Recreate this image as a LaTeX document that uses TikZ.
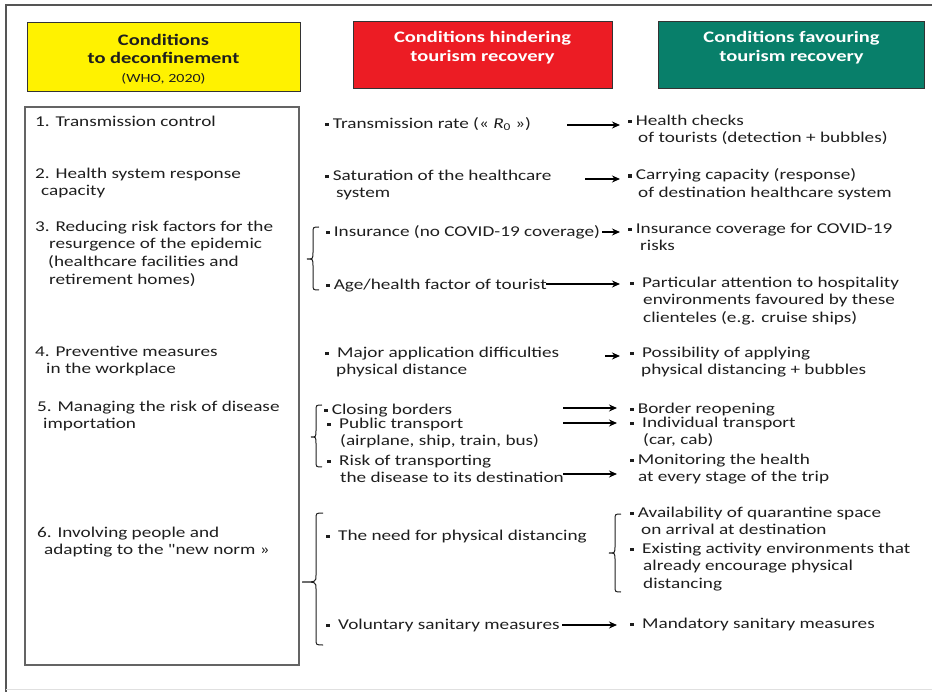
\documentclass[tikz,border=0pt]{standalone}
\usepackage{fontspec}
\setmainfont{Carlito}[FakeStretch=1.28]
% same face without the TeX quote mapping, for a straight double quote
\newfontfamily\plainquote{Carlito}[FakeStretch=1.28]
\usetikzlibrary{arrows.meta}

\definecolor{ink}{RGB}{30,30,30}
\definecolor{framegray}{RGB}{85,85,85}
\definecolor{boxgray}{RGB}{100,100,100}
\definecolor{hdryellow}{RGB}{255,242,0}
\definecolor{hdrred}{RGB}{236,28,36}
\definecolor{hdrgreen}{RGB}{8,127,106}

% small square bullet
\newcommand\bul{\raisebox{2.2pt}{\rule{3.3pt}{3.3pt}}}

% curly brace opening to the right:
% #1 tip x, #2 stem x, #3 end x, #4 top y, #5 tip y, #6 bottom y
\newcommand\curlybr[6]{%
  \draw[bracestyle] (#3,#4) .. controls (#2,#4) .. (#2,#4+6)
    -- (#2,#5-7) .. controls (#2,#5) .. (#1,#5)
    .. controls (#2,#5) .. (#2,#5+7)
    -- (#2,#6-6) .. controls (#2,#6) .. (#3,#6);}

\tikzset{
  txt/.style={font=\fontsize{15}{17.7}\selectfont, text=ink, inner sep=0pt,
    anchor=north west, align=left, yshift=8.4pt, execute at begin node=\strut},
  hdrbox/.style={draw=black!80, line width=0.9pt, inner sep=0pt},
  hdrtxt/.style={font=\bfseries\fontsize{16}{18.5}\selectfont, align=center, inner sep=0pt},
  arr/.style={draw=black, line width=1.4pt, -{Stealth[length=8pt,width=7pt]}},
  bracestyle/.style={draw=ink, line width=1pt},
}

\begin{document}
\begin{tikzpicture}[x=1pt,y=-1pt]
\useasboundingbox (0,0) rectangle (932,692);

% outer frame
\draw[framegray, line width=2pt] (6,692) -- (6,5) -- (932,5);
\draw[black!12, line width=1pt] (6,689) -- (932,689);

% column headers
\node[hdrbox, fill=hdryellow, minimum width=273pt, minimum height=69pt] (hy) at (163.5,56.5) {};
\node[hdrbox, fill=hdrred, minimum width=259pt, minimum height=67pt] (hr) at (482.5,55) {};
\node[hdrbox, fill=hdrgreen, minimum width=266pt, minimum height=67pt] (hg) at (791.5,55) {};
\node[hdrtxt, text=ink] (hyt) at (163.5,59) {Conditions\\to deconfinement\\{\mdseries\fontsize{12.5}{15}\selectfont (WHO, 2020)}};
\node[hdrtxt, text=white] (hrt) at (482.5,47.5) {Conditions hindering\\tourism recovery};
\node[hdrtxt, text=white] (hgt) at (791.5,47.5) {Conditions favouring\\tourism recovery};

% left column frame
\node[draw=boxgray, line width=1.6pt, minimum width=274pt, minimum height=558pt, inner sep=0pt] (lbox) at (162,386) {};

% conditions to deconfinement
\node[txt] (L1) at (35,122) {1. Transmission control};
\node[txt] (L2) at (35,176) {2. Health system response\\\hspace*{6pt}capacity};
\node[txt] (L3) at (35,229) {3. Reducing risk factors for the\\\hspace*{14pt}resurgence of the epidemic\\\hspace*{13pt}(healthcare facilities and\\\hspace*{14pt}retirement homes)};
\node[txt] (L4) at (35,354) {4. Preventive measures\\\hspace*{11pt}in the workplace};
\node[txt] (L5) at (37,409) {5. Managing the risk of disease\\\hspace*{6pt}importation};
\node[txt] (L6) at (37,535) {6. Involving people and\\\hspace*{7pt}adapting to the {\plainquote"}new norm »};

% conditions hindering recovery
\node[txt] (M1) at (325,124) {\bul{} Transmission rate (« {\itshape R}\textsubscript{0} »)};
\node[txt] (M2) at (325,178) {\bul{} Saturation of the healthcare\\\hspace*{11pt}system};
\node[txt] (M3) at (326,232) {\bul{} Insurance (no COVID-19 coverage)};
\node[txt] (M4) at (326,285) {\bul{} Age/health factor of tourist};
\node[txt] (M5) at (325,355) {\bul{}\ \ Major application difficulties\\\hspace*{11pt}physical distance};
\node[txt] (M6) at (324,410) {\bul{} Closing borders};
\node[txt] (M7) at (327,426) {\bul{}\ \ Public transport\\\hspace*{13pt}(airplane, ship, train, bus)};
\node[txt] (M8) at (327,463) {\bul{}\ \ Risk of transporting\\\hspace*{13pt}the disease to its destination};
\node[txt] (M9) at (326,536) {\bul{}\ \ The need for physical distancing};
\node[txt] (M10) at (326,625) {\bul{}\ \ Voluntary sanitary measures};

% conditions favouring recovery
\node[txt] (R1) at (628,123) {\bul{} Health checks\\\hspace*{10pt}of tourists (detection + bubbles)};
\node[txt] (R2) at (628,177) {\bul{} Carrying capacity (response)\\\hspace*{10pt}of destination healthcare system};
\node[txt] (R3) at (628,231) {\bul{} Insurance coverage for COVID-19\\\hspace*{12pt}risks};
\node[txt] (R4) at (630,285) {\bul{}\ \ Particular attention to hospitality\\\hspace*{13pt}environments favoured by these\\\hspace*{13pt}clienteles (e.g. cruise ships)};
\node[txt] (R5) at (630,355) {\bul{}\ \ Possibility of applying\\\hspace*{11pt}physical distancing + bubbles};
\node[txt] (R6) at (630,409) {\bul{} Border reopening};
\node[txt] (R7) at (630,425) {\bul{}\ \ Individual transport\\\hspace*{13pt}(car, cab)};
\node[txt] (R8) at (630,462) {\bul{} Monitoring the health\\\hspace*{8pt}at every stage of the trip};
\node[txt] (R9) at (630,515) {\bul{} Availability of quarantine space\\\hspace*{11pt}on arrival at destination};
\node[txt] (R10) at (630,551) {\bul{}\ \ Existing activity environments that\\\hspace*{13pt}already encourage physical\\\hspace*{13pt}distancing};
\node[txt] (R11) at (630,624) {\bul{}\ \ Mandatory sanitary measures};

% arrow end points
\coordinate (a1s) at (567,125);  \coordinate (a1e) at (620,125);
\coordinate (a2s) at (585,179);  \coordinate (a2e) at (620,179);
\coordinate (a3s) at (602,232);  \coordinate (a3e) at (620,232);
\coordinate (a4s) at (546,284);  \coordinate (a4e) at (620,284);
\coordinate (a5s) at (605,356);  \coordinate (a5e) at (620,356);
\coordinate (a6s) at (563,408);  \coordinate (a6e) at (617,408);
\coordinate (a7s) at (563,423);  \coordinate (a7e) at (617,423);
\coordinate (a8s) at (563,474);  \coordinate (a8e) at (617,474);
\coordinate (a9s) at (562,625);  \coordinate (a9e) at (617,625);

\foreach \i in {1,...,9} \draw[arr] (a\i s) -- (a\i e);

% braces
\curlybr{307}{313}{319}{227}{259}{290}
\curlybr{311}{316}{322}{405}{437}{467}
\curlybr{302}{316}{323}{513}{582}{645}
\curlybr{609}{615}{621}{514}{553}{592}
\end{tikzpicture}
\end{document}
